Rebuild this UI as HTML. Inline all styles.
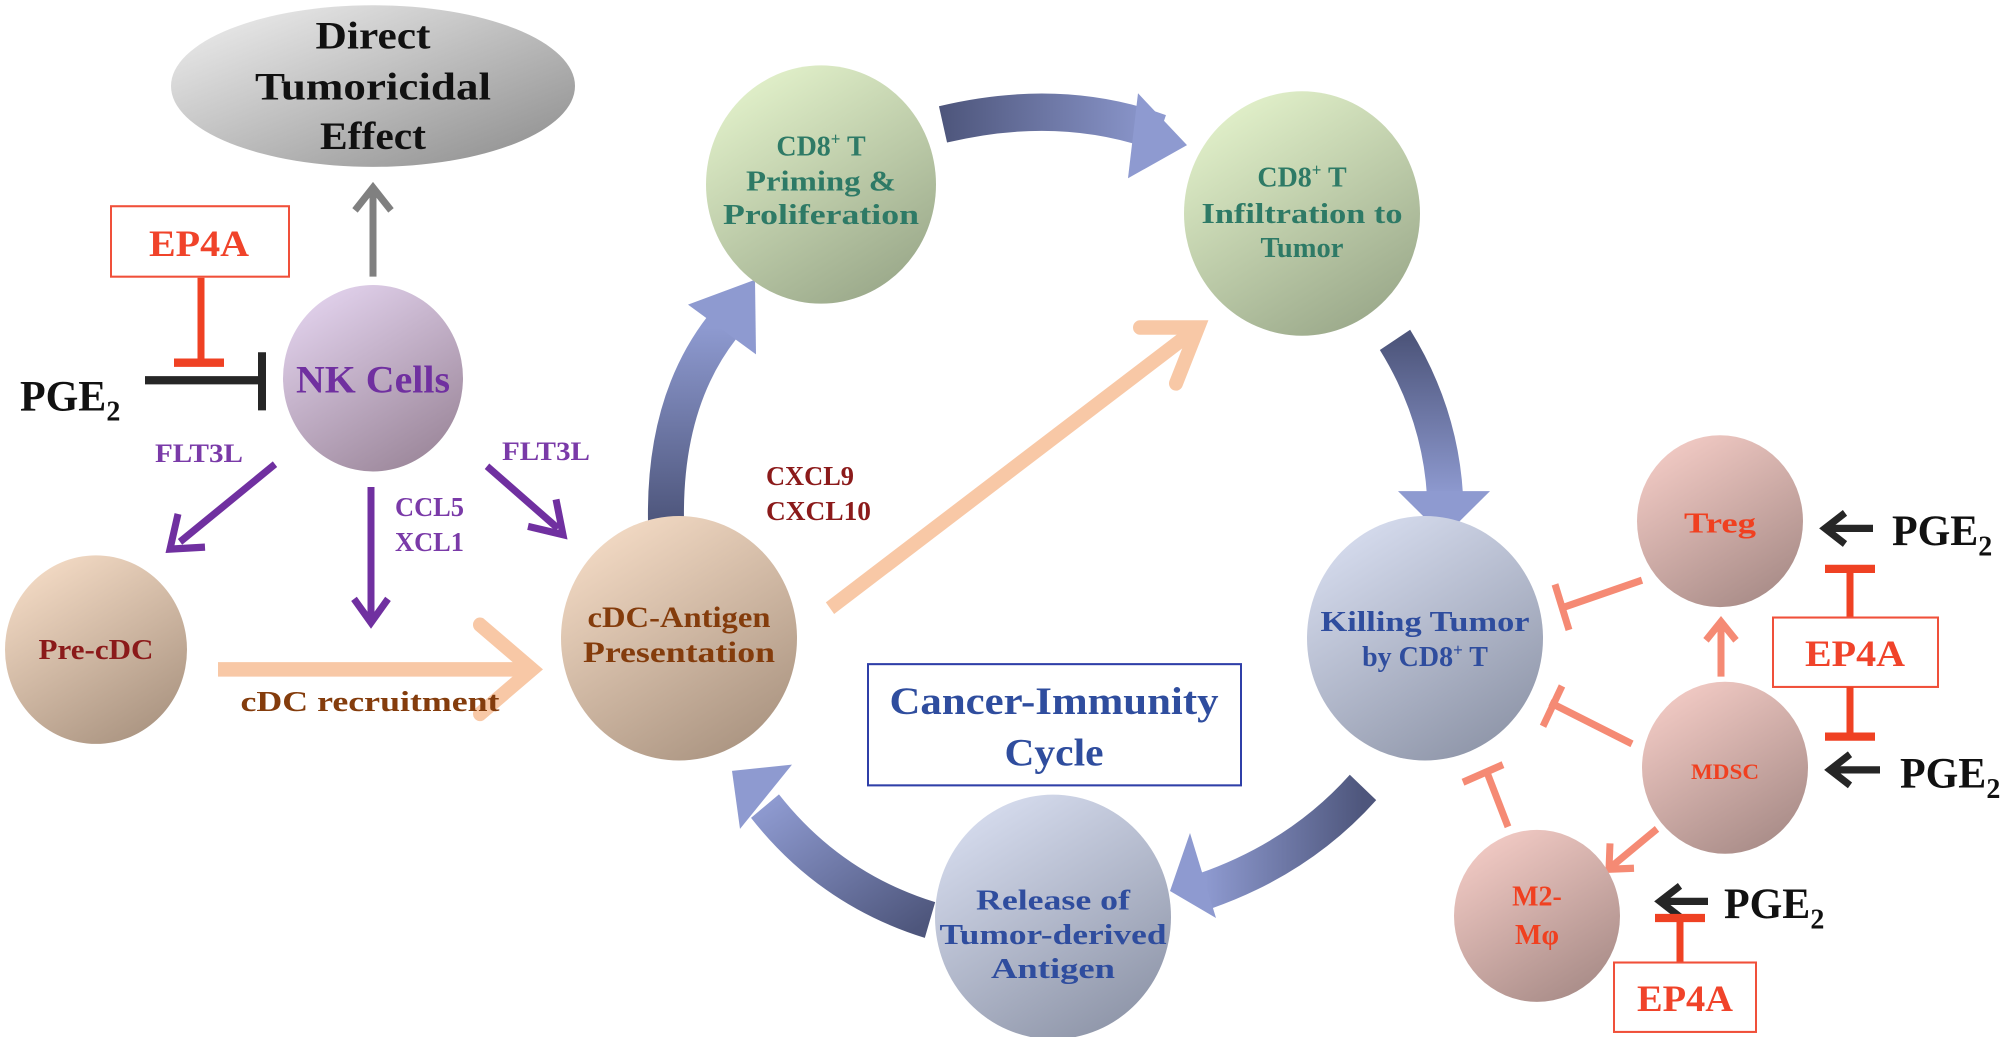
<!DOCTYPE html>
<html><head><meta charset="utf-8"><style>
html,body{margin:0;padding:0;background:#fff;}
svg{display:block;}
text{font-family:"Liberation Serif",serif;font-weight:bold;}
</style></head><body>
<svg width="2008" height="1037" viewBox="0 0 2008 1037" xmlns="http://www.w3.org/2000/svg">
<defs>
<linearGradient id="gGray" x1="0" y1="0" x2="1" y2="1"><stop offset="0" stop-color="#f2f2f2"/><stop offset="1" stop-color="#8a8a8a"/></linearGradient>
<linearGradient id="gNK" x1="0.2" y1="0" x2="0.8" y2="1"><stop offset="0" stop-color="#e3d3ee"/><stop offset="1" stop-color="#9a8598"/></linearGradient>
<linearGradient id="gPeach" x1="0.2" y1="0" x2="0.8" y2="1"><stop offset="0" stop-color="#f5dcc6"/><stop offset="1" stop-color="#a8927f"/></linearGradient>
<linearGradient id="gGreen" x1="0.2" y1="0" x2="0.8" y2="1"><stop offset="0" stop-color="#e4f3cc"/><stop offset="1" stop-color="#98a688"/></linearGradient>
<linearGradient id="gBlue" x1="0.2" y1="0" x2="0.8" y2="1"><stop offset="0" stop-color="#d8def0"/><stop offset="1" stop-color="#8c93a6"/></linearGradient>
<linearGradient id="gPink" x1="0.2" y1="0" x2="0.8" y2="1"><stop offset="0" stop-color="#f4ccc6"/><stop offset="1" stop-color="#a68a86"/></linearGradient>
<linearGradient id="gArr1" x1="0" y1="1" x2="0" y2="0"><stop offset="0" stop-color="#4e567c"/><stop offset="1" stop-color="#8e9ad0"/></linearGradient>
<linearGradient id="gArr2" x1="0" y1="0" x2="1" y2="0"><stop offset="0" stop-color="#4e567c"/><stop offset="1" stop-color="#8e9ad0"/></linearGradient>
<linearGradient id="gArr3" x1="0" y1="0" x2="0" y2="1"><stop offset="0" stop-color="#4e567c"/><stop offset="1" stop-color="#8e9ad0"/></linearGradient>
<linearGradient id="gArr4" x1="1" y1="0" x2="0" y2="0"><stop offset="0" stop-color="#4e567c"/><stop offset="1" stop-color="#8e9ad0"/></linearGradient>
<linearGradient id="gArr5" x1="1" y1="1" x2="0" y2="0"><stop offset="0" stop-color="#4e567c"/><stop offset="1" stop-color="#8e9ad0"/></linearGradient>
</defs>
<g transform="matrix(1,0,0,1.036,0,-2)">
<!-- Cycle big arrows -->
<path d="M666 505 Q 664 390 722 318" fill="none" stroke="url(#gArr1)" stroke-width="36"/>
<polygon points="688,296 756,344 755,272" fill="#8e9ad0"/>
<path d="M943 122 Q 1060 95 1160 130" fill="none" stroke="url(#gArr2)" stroke-width="36"/>
<polygon points="1138,92 1187,142 1128,174" fill="#8e9ad0"/>
<path d="M1395 330 Q 1440 400 1445 480" fill="none" stroke="url(#gArr3)" stroke-width="36"/>
<polygon points="1398,476 1490,476 1444,520" fill="#8e9ad0"/>
<path d="M1363 762 Q 1300 830 1205 862" fill="none" stroke="url(#gArr4)" stroke-width="36"/>
<polygon points="1190,806 1170,862 1216,888" fill="#8e9ad0"/>
<path d="M930 890 Q 830 860 765 780" fill="none" stroke="url(#gArr5)" stroke-width="36"/>
<polygon points="732,746 792,740 740,802" fill="#8e9ad0"/>

<!-- Peach arrows -->
<line x1="218" y1="648" x2="530" y2="648" stroke="#f8c8a6" stroke-width="14"/>
<polyline points="480,605 532,648 480,691" fill="none" stroke="#f8c8a6" stroke-width="14" stroke-linecap="round"/>
<line x1="830" y1="589" x2="1198" y2="318" stroke="#f8c8a6" stroke-width="14"/>
<polyline points="1140,318 1198,318 1176,372" fill="none" stroke="#f8c8a6" stroke-width="14" stroke-linecap="round"/>

<!-- Ellipse -->
<ellipse cx="373" cy="85" rx="202" ry="78" fill="url(#gGray)"/>
<text x="373" y="49" font-size="38" text-anchor="middle" fill="#111" textLength="115" lengthAdjust="spacingAndGlyphs">Direct</text>
<text x="373" y="98" font-size="38" text-anchor="middle" fill="#111" textLength="236" lengthAdjust="spacingAndGlyphs">Tumoricidal</text>
<text x="373" y="146" font-size="38" text-anchor="middle" fill="#111" textLength="106" lengthAdjust="spacingAndGlyphs">Effect</text>

<!-- gray arrow -->
<line x1="373" y1="269" x2="373" y2="186" stroke="#808080" stroke-width="7"/>
<polyline points="355,205 373,183 391,205" fill="none" stroke="#808080" stroke-width="7"/>

<!-- EP4A left -->
<rect x="111" y="201" width="178" height="68" fill="#fff" stroke="#f0503a" stroke-width="2"/>
<text x="199" y="249" font-size="36" text-anchor="middle" fill="#f0432a" textLength="100" lengthAdjust="spacingAndGlyphs">EP4A</text>
<line x1="201" y1="270" x2="201" y2="352" stroke="#ef4123" stroke-width="7"/>
<line x1="174" y1="352" x2="224" y2="352" stroke="#ef4123" stroke-width="8"/>

<!-- PGE2 left -->
<text x="20" y="398" font-size="42" fill="#111">PGE<tspan font-size="28" dy="10">2</tspan></text>
<line x1="145" y1="369" x2="262" y2="369" stroke="#262626" stroke-width="8"/>
<line x1="262" y1="342" x2="262" y2="398" stroke="#262626" stroke-width="8"/>

<!-- NK -->
<circle cx="373" cy="367" r="90" fill="url(#gNK)"/>
<text x="373" y="381" font-size="38" text-anchor="middle" fill="#7030a0" textLength="154" lengthAdjust="spacingAndGlyphs">NK Cells</text>

<!-- purple arrows -->
<text x="155" y="448" font-size="25" fill="#7a3aa8" textLength="88" lengthAdjust="spacingAndGlyphs">FLT3L</text>
<line x1="275" y1="450" x2="180" y2="525" stroke="#7030a0" stroke-width="7"/>
<polyline points="178,498 170,532 205,530" fill="none" stroke="#7030a0" stroke-width="7"/>
<text x="502" y="446" font-size="25" fill="#7a3aa8" textLength="88" lengthAdjust="spacingAndGlyphs">FLT3L</text>
<line x1="487" y1="452" x2="558" y2="512" stroke="#7030a0" stroke-width="7"/>
<polyline points="528,510 563,518 556,484" fill="none" stroke="#7030a0" stroke-width="7"/>
<line x1="371" y1="472" x2="371" y2="600" stroke="#7030a0" stroke-width="7"/>
<polyline points="354,580 371,603 388,580" fill="none" stroke="#7030a0" stroke-width="7"/>
<text x="395" y="500" font-size="26" fill="#7a3aa8" textLength="69" lengthAdjust="spacingAndGlyphs">CCL5</text>
<text x="395" y="534" font-size="26" fill="#7a3aa8" textLength="69" lengthAdjust="spacingAndGlyphs">XCL1</text>

<!-- Pre-cDC -->
<circle cx="96" cy="629" r="91" fill="url(#gPeach)"/>
<text x="96" y="638" font-size="28" text-anchor="middle" fill="#8b1a1a" textLength="115" lengthAdjust="spacingAndGlyphs">Pre-cDC</text>
<text x="370" y="688" font-size="28" text-anchor="middle" fill="#843c0c" textLength="259" lengthAdjust="spacingAndGlyphs">cDC recruitment</text>

<!-- cDC -->
<circle cx="679" cy="618" r="118" fill="url(#gPeach)"/>
<text x="679" y="607" font-size="29" text-anchor="middle" fill="#843c0c" textLength="183" lengthAdjust="spacingAndGlyphs">cDC-Antigen</text>
<text x="679" y="641" font-size="29" text-anchor="middle" fill="#843c0c" textLength="192" lengthAdjust="spacingAndGlyphs">Presentation</text>
<text x="766" y="470" font-size="26" fill="#8b1a1a" textLength="88" lengthAdjust="spacingAndGlyphs">CXCL9</text>
<text x="766" y="504" font-size="26" fill="#8b1a1a" textLength="105" lengthAdjust="spacingAndGlyphs">CXCL10</text>

<!-- CD8 priming -->
<circle cx="821" cy="180" r="115" fill="url(#gGreen)"/>
<text x="821" y="152" font-size="28" text-anchor="middle" fill="#2e7a66">CD8<tspan font-size="17" dy="-10">+</tspan><tspan dy="10"> T</tspan></text>
<text x="821" y="186" font-size="28" text-anchor="middle" fill="#2e7a66" textLength="150" lengthAdjust="spacingAndGlyphs">Priming &amp;</text>
<text x="821" y="218" font-size="28" text-anchor="middle" fill="#2e7a66" textLength="196" lengthAdjust="spacingAndGlyphs">Proliferation</text>

<!-- CD8 infiltration -->
<circle cx="1302" cy="208" r="118" fill="url(#gGreen)"/>
<text x="1302" y="182" font-size="28" text-anchor="middle" fill="#2e7a66">CD8<tspan font-size="17" dy="-10">+</tspan><tspan dy="10"> T</tspan></text>
<text x="1302" y="217" font-size="28" text-anchor="middle" fill="#2e7a66" textLength="201" lengthAdjust="spacingAndGlyphs">Infiltration to</text>
<text x="1302" y="250" font-size="28" text-anchor="middle" fill="#2e7a66" textLength="83" lengthAdjust="spacingAndGlyphs">Tumor</text>

<!-- Killing -->
<circle cx="1425" cy="618" r="118" fill="url(#gBlue)"/>
<text x="1425" y="611" font-size="28" text-anchor="middle" fill="#2f4d9e" textLength="209" lengthAdjust="spacingAndGlyphs">Killing Tumor</text>
<text x="1425" y="645" font-size="28" text-anchor="middle" fill="#2f4d9e">by CD8<tspan font-size="17" dy="-10">+</tspan><tspan dy="10"> T</tspan></text>

<!-- Release -->
<circle cx="1053" cy="887" r="118" fill="url(#gBlue)"/>
<text x="1053" y="880" font-size="28" text-anchor="middle" fill="#2f4d9e" textLength="154" lengthAdjust="spacingAndGlyphs">Release of</text>
<text x="1053" y="913" font-size="28" text-anchor="middle" fill="#2f4d9e" textLength="227" lengthAdjust="spacingAndGlyphs">Tumor-derived</text>
<text x="1053" y="946" font-size="28" text-anchor="middle" fill="#2f4d9e" textLength="124" lengthAdjust="spacingAndGlyphs">Antigen</text>

<!-- Cancer-Immunity box -->
<rect x="868" y="643" width="373" height="117" fill="#fff" stroke="#2f3fa8" stroke-width="2"/>
<text x="1054" y="691" font-size="38" text-anchor="middle" fill="#2f4d9e" textLength="329" lengthAdjust="spacingAndGlyphs">Cancer-Immunity</text>
<text x="1054" y="741" font-size="38" text-anchor="middle" fill="#2f4d9e" textLength="99" lengthAdjust="spacingAndGlyphs">Cycle</text>

<!-- salmon inhibitors -->
<line x1="1642" y1="562" x2="1564" y2="588" stroke="#f58a74" stroke-width="7"/>
<line x1="1555" y1="566" x2="1569" y2="610" stroke="#f58a74" stroke-width="7"/>
<line x1="1632" y1="720" x2="1550" y2="680" stroke="#f58a74" stroke-width="7"/>
<line x1="1543" y1="703" x2="1562" y2="664" stroke="#f58a74" stroke-width="7"/>
<line x1="1508" y1="800" x2="1486" y2="745" stroke="#f58a74" stroke-width="7"/>
<line x1="1463" y1="757" x2="1503" y2="740" stroke="#f58a74" stroke-width="7"/>
<line x1="1721" y1="655" x2="1721" y2="604" stroke="#f58a74" stroke-width="7"/>
<polyline points="1706,620 1721,602 1736,620" fill="none" stroke="#f58a74" stroke-width="7"/>
<line x1="1657" y1="802" x2="1612" y2="838" stroke="#f58a74" stroke-width="7"/>
<polyline points="1610,816 1609,841 1634,840" fill="none" stroke="#f58a74" stroke-width="7"/>

<!-- pink circles -->
<circle cx="1720" cy="505" r="83" fill="url(#gPink)"/>
<text x="1720" y="516" font-size="28" text-anchor="middle" fill="#f04020" textLength="72" lengthAdjust="spacingAndGlyphs">Treg</text>
<circle cx="1725" cy="743" r="83" fill="url(#gPink)"/>
<text x="1725" y="754" font-size="21" text-anchor="middle" fill="#f04020" textLength="68" lengthAdjust="spacingAndGlyphs">MDSC</text>
<circle cx="1537" cy="886" r="83" fill="url(#gPink)"/>
<text x="1537" y="876" font-size="28" text-anchor="middle" fill="#f04020">M2-</text>
<text x="1537" y="913" font-size="28" text-anchor="middle" fill="#f04020">Mφ</text>

<!-- PGE2 right -->
<line x1="1873" y1="512" x2="1826" y2="512" stroke="#262626" stroke-width="7"/>
<polyline points="1845,497 1825,512 1845,527" fill="none" stroke="#262626" stroke-width="7"/>
<text x="1892" y="528" font-size="42" fill="#111">PGE<tspan font-size="28" dy="10">2</tspan></text>
<line x1="1880" y1="745" x2="1830" y2="745" stroke="#262626" stroke-width="7"/>
<polyline points="1850,730 1830,745 1850,760" fill="none" stroke="#262626" stroke-width="7"/>
<text x="1900" y="762" font-size="42" fill="#111">PGE<tspan font-size="28" dy="10">2</tspan></text>
<line x1="1708" y1="872" x2="1660" y2="872" stroke="#262626" stroke-width="7"/>
<polyline points="1680,857 1660,872 1680,887" fill="none" stroke="#262626" stroke-width="7"/>
<text x="1724" y="888" font-size="42" fill="#111">PGE<tspan font-size="28" dy="10">2</tspan></text>

<!-- EP4A right -->
<line x1="1825" y1="551" x2="1875" y2="551" stroke="#ef4123" stroke-width="8"/>
<line x1="1850" y1="551" x2="1850" y2="598" stroke="#ef4123" stroke-width="7"/>
<rect x="1773" y="598" width="165" height="67" fill="#fff" stroke="#f0503a" stroke-width="2"/>
<text x="1855" y="645" font-size="36" text-anchor="middle" fill="#f0432a" textLength="100" lengthAdjust="spacingAndGlyphs">EP4A</text>
<line x1="1850" y1="665" x2="1850" y2="713" stroke="#ef4123" stroke-width="7"/>
<line x1="1825" y1="713" x2="1875" y2="713" stroke="#ef4123" stroke-width="8"/>

<line x1="1655" y1="888" x2="1705" y2="888" stroke="#ef4123" stroke-width="8"/>
<line x1="1680" y1="888" x2="1680" y2="931" stroke="#ef4123" stroke-width="7"/>
<rect x="1614" y="931" width="142" height="67" fill="#fff" stroke="#f0503a" stroke-width="2"/>
<text x="1685" y="978" font-size="36" text-anchor="middle" fill="#f0432a" textLength="96" lengthAdjust="spacingAndGlyphs">EP4A</text>
</g>
</svg>
</body></html>
